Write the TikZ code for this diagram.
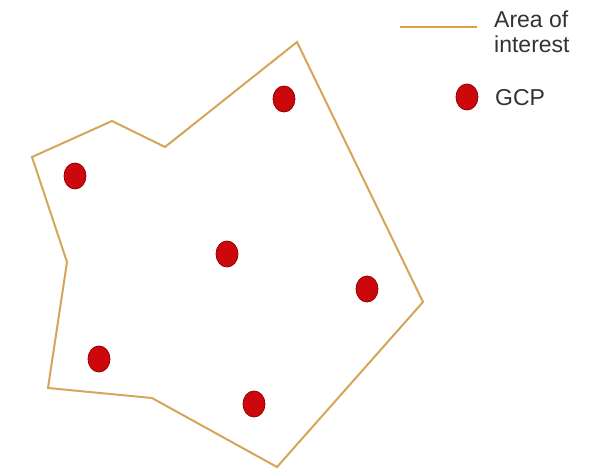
\documentclass[tikz,border=0pt]{standalone}
\usepackage{fontspec}
\setmainfont{Liberation Sans}
\usetikzlibrary{shapes.geometric}
\definecolor{aoi}{RGB}{214,165,90}
\definecolor{gcpfill}{RGB}{205,8,12}
\definecolor{gcpdraw}{RGB}{150,0,0}
\begin{document}
\begin{tikzpicture}[x=1pt,y=-1pt,
  aoiline/.style={draw=aoi,line width=2pt,line join=miter},
  gcp/.style={ellipse,fill=gcpfill,draw=gcpdraw,line width=0.8pt,minimum width=22pt,minimum height=26pt,inner sep=0pt},
  legtext/.style={font=\fontsize{23}{25}\selectfont,color=black!80,anchor=west,align=left,inner sep=0pt}]
\useasboundingbox (0,0) rectangle (603,473);
\fill[white] (0,0) rectangle (603,473);
% area of interest
\coordinate (p1) at (32,157);
\coordinate (p2) at (112,121);
\coordinate (p3) at (165,147);
\coordinate (p4) at (297,42);
\coordinate (p5) at (423,302);
\coordinate (p6) at (277,467);
\coordinate (p7) at (152,398);
\coordinate (p8) at (48,388);
\coordinate (p9) at (67,262);
\draw[aoiline] (p1) -- (p2) -- (p3) -- (p4) -- (p5) -- (p6) -- (p7) -- (p8) -- (p9) -- cycle;
% GCPs
\node[gcp] (g1) at (284,99) {};
\node[gcp] (g2) at (75,176) {};
\node[gcp] (g3) at (227,254) {};
\node[gcp] (g4) at (367,289) {};
\node[gcp] (g5) at (99,359) {};
\node[gcp] (g6) at (254,404) {};
% legend
\coordinate (l1) at (400,27);
\coordinate (l2) at (477,27);
\draw[draw=aoi!80!orange,line width=2.2pt] (l1) -- (l2);
\node[legtext] (t1) at (494,32) {Area of\\interest};
\node[gcp] (lg) at (467,97) {};
\node[legtext] (t2) at (495,98) {GCP};
\end{tikzpicture}
\end{document}
